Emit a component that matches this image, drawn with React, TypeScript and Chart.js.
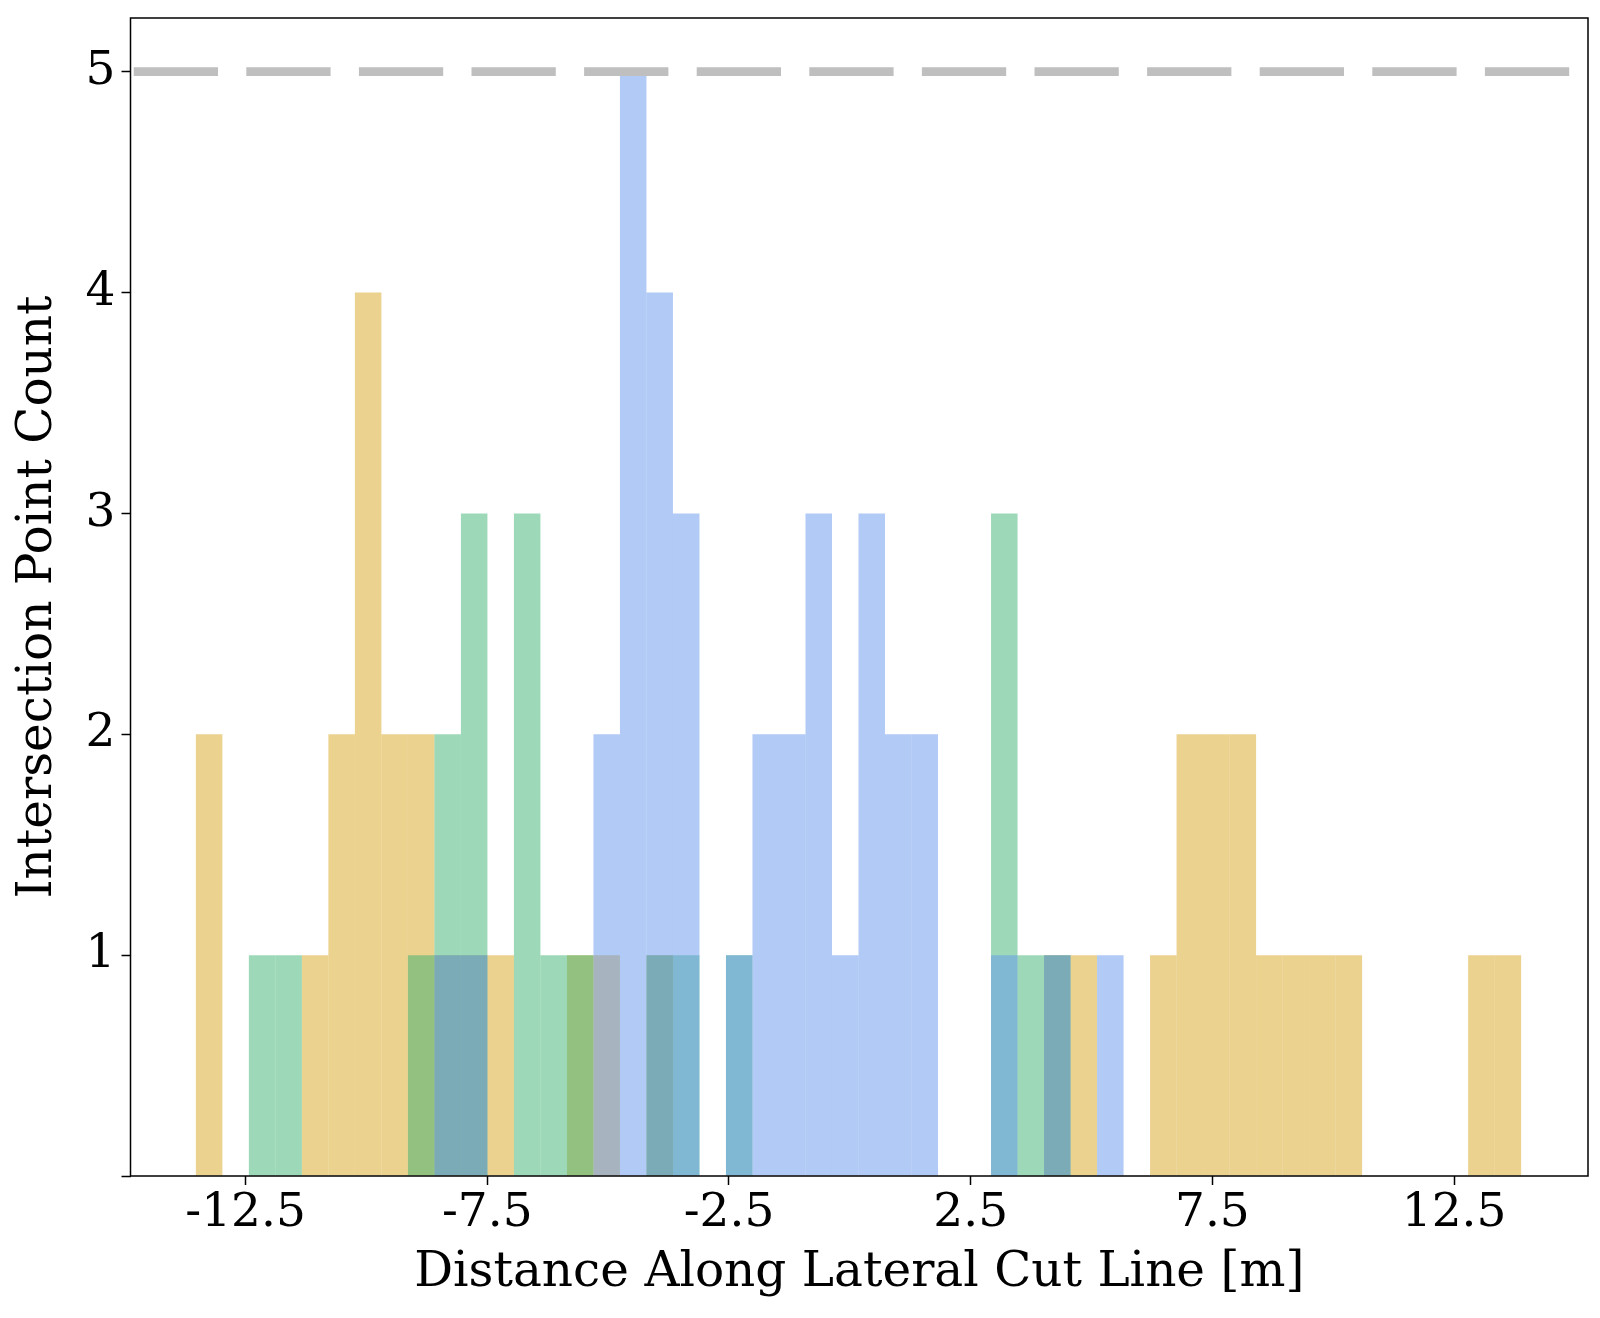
import { useEffect, useRef } from 'react';
import Chart from 'chart.js/auto';

// histogram bins shared by all three series
const BIN_START = -13.528;
const BIN_WIDTH = 0.5483;
const BIN_COUNT = 50;

// counts per bin (50 bins each)
const goldCounts = [
  2, 0, 0, 0, 1, 2, 4, 2, 2, 1,
  1, 1, 0, 0, 1, 1, 0, 1, 0, 0,
  0, 0, 0, 0, 0, 0, 0, 0, 0, 0,
  0, 0, 1, 1, 0, 0, 1, 2, 2, 2,
  1, 1, 1, 1, 0, 0, 0, 0, 1, 1,
];
const greenCounts = [
  0, 0, 1, 1, 0, 0, 0, 0, 1, 2,
  3, 0, 3, 1, 1, 0, 0, 1, 1, 0,
  1, 0, 0, 0, 0, 0, 0, 0, 0, 0,
  3, 1, 1, 0, 0, 0, 0, 0, 0, 0,
  0, 0, 0, 0, 0, 0, 0, 0, 0, 0,
];
const blueCounts = [
  0, 0, 0, 0, 0, 0, 0, 0, 0, 1,
  1, 0, 0, 0, 0, 2, 5, 4, 3, 0,
  1, 2, 2, 3, 1, 3, 2, 2, 0, 0,
  1, 0, 1, 0, 1, 0, 0, 0, 0, 0,
  0, 0, 0, 0, 0, 0, 0, 0, 0, 0,
];

const xTicks = [-12.5, -7.5, -2.5, 2.5, 7.5, 12.5];
const yTicks = [0, 1, 2, 3, 4, 5];
const X_MIN = -14.88;
const X_MAX = 15.27;
const Y_MAX = 5.243;
const CAP_LINE = 5;

const binCenters = Array.from({ length: BIN_COUNT }, (_, i) => BIN_START + BIN_WIDTH * (i + 0.5));
const toPoints = (counts: number[]) => counts.map((c, i) => ({ x: binCenters[i], y: c }));

const FONT = "'DejaVu Serif', serif";

const framePlugin = {
  id: 'frame',
  afterDatasetsDraw(chart: Chart) {
    const { ctx, chartArea } = chart;
    ctx.save();
    ctx.strokeStyle = '#000';
    ctx.lineWidth = 1.5;
    ctx.strokeRect(chartArea.left, chartArea.top, chartArea.right - chartArea.left, chartArea.bottom - chartArea.top);
    ctx.restore();
  },
};

export default function App() {
  const canvasRef = useRef<HTMLCanvasElement>(null);
  const chartRef = useRef<Chart | null>(null);

  useEffect(() => {
    document.body.style.margin = '0';
    if (!canvasRef.current) return;
    if (chartRef.current) chartRef.current.destroy();

    chartRef.current = new Chart(canvasRef.current, {
      type: 'bar',
      data: {
        datasets: [
          {
            type: 'line',
            data: [
              { x: X_MIN, y: CAP_LINE },
              { x: X_MAX, y: CAP_LINE },
            ],
            borderColor: '#bfbfbf',
            borderWidth: 8.7,
            borderDash: [84.3, 28.3],
            borderDashOffset: -3.2,
            pointRadius: 0,
            order: 0,
          } as any,
          {
            data: toPoints(blueCounts),
            backgroundColor: 'rgba(100, 149, 237, 0.5)',
            borderWidth: 0,
            order: 1,
          },
          {
            data: toPoints(greenCounts),
            backgroundColor: 'rgba(60, 179, 113, 0.5)',
            borderWidth: 0,
            order: 2,
          },
          {
            data: toPoints(goldCounts),
            backgroundColor: 'rgba(218, 165, 32, 0.5)',
            borderWidth: 0,
            order: 3,
          },
        ],
      },
      options: {
        animation: false,
        responsive: true,
        maintainAspectRatio: false,
        devicePixelRatio: 1,
        layout: { padding: { top: 18, right: 12, left: 0, bottom: 0 } },
        datasets: {
          bar: {
            grouped: false,
            barPercentage: 1,
            categoryPercentage: 1,
            inflateAmount: 0,
          },
        },
        plugins: {
          legend: { display: false },
          tooltip: { enabled: false },
        },
        scales: {
          x: {
            type: 'linear',
            min: X_MIN,
            max: X_MAX,
            offset: false,
            afterBuildTicks: (scale: any) => {
              scale.ticks = xTicks.map((v) => ({ value: v }));
            },
            afterFit: (scale: any) => {
              scale.height = 142;
              scale.paddingLeft = 0;
              scale.paddingRight = 0;
            },
            border: { display: false },
            grid: {
              offset: false,
              drawOnChartArea: false,
              drawTicks: true,
              tickLength: 9,
              tickColor: '#000',
              tickWidth: 1.5,
            },
            ticks: {
              color: '#000',
              font: { family: FONT, size: 47 },
              padding: 1,
              maxRotation: 0,
              autoSkip: false,
              callback: (v: any) => String(v),
            },
            title: {
              display: true,
              text: 'Distance Along Lateral Cut Line [m]',
              color: '#000',
              font: { family: FONT, size: 48.5 },
              padding: { top: 0, bottom: 15 },
            },
          },
          y: {
            min: 0,
            max: Y_MAX,
            afterBuildTicks: (scale: any) => {
              scale.ticks = yTicks.map((v) => ({ value: v }));
            },
            afterFit: (scale: any) => {
              scale.width = 130.5;
              scale.paddingTop = 0;
              scale.paddingBottom = 0;
            },
            border: { display: false },
            grid: {
              drawOnChartArea: false,
              drawTicks: true,
              tickLength: 9,
              tickColor: '#000',
              tickWidth: 1.5,
            },
            ticks: {
              color: '#000',
              font: { family: FONT, size: 47 },
              padding: 6,
              autoSkip: false,
              callback: (v: any) => (v === 0 ? '' : String(v)),
            },
            title: {
              display: true,
              text: 'Intersection Point Count',
              color: '#000',
              font: { family: FONT, size: 48.5 },
              padding: { top: 9, bottom: 0 },
            },
          },
        },
      },
      plugins: [framePlugin],
    });

    return () => {
      if (chartRef.current) {
        chartRef.current.destroy();
        chartRef.current = null;
      }
    };
  }, []);

  return (
    <div style={{ width: 1600, height: 1318, position: 'relative' }}>
      <canvas ref={canvasRef} />
    </div>
  );
}
